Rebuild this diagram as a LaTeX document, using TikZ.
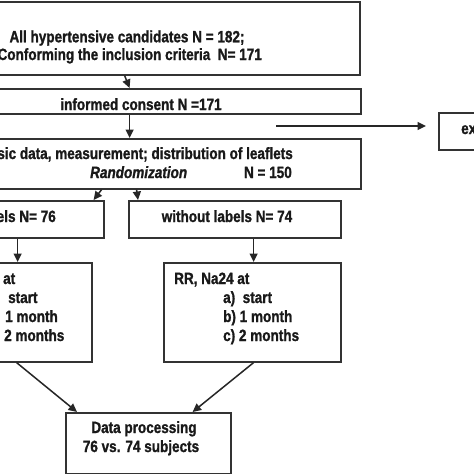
\documentclass[tikz,border=0pt]{standalone}
\usepackage{fontspec}
\setmainfont[FakeStretch=0.83,BoldFeatures={FakeBold=1.2},BoldItalicFeatures={FakeBold=1.2}]{Liberation Sans}
\usetikzlibrary{arrows.meta}
\begin{document}
\begin{tikzpicture}[x=1pt,y=-1pt,
  box/.style={draw=black!80,line width=1.6pt,inner sep=0pt,anchor=north west},
  txt/.style={inner sep=0pt,font=\fontsize{16.3}{18}\bfseries\selectfont,text=black!90},
  arr/.style={draw=black!85,line width=1.5pt,-{Triangle[length=8.5pt,width=8pt]}}]
\useasboundingbox (0,0) rectangle (474,474);
\clip (0,0) rectangle (474,474);
\fill[white] (0,0) rectangle (474,474);
% boxes
\node[box,minimum width=459pt,minimum height=73pt] (b1) at (-100,1) {};
\node[box,minimum width=438pt,minimum height=25pt] (b2) at (-78,88) {};
\node[box,minimum width=460pt,minimum height=50pt] (b3) at (-100,138) {};
\node[box,minimum width=100pt,minimum height=37pt] (ex) at (438,112) {};
\node[box,minimum width=213pt,minimum height=37pt] (b4) at (-110,200) {};
\node[box,minimum width=212pt,minimum height=37pt] (b5) at (128,200) {};
\node[box,minimum width=162pt,minimum height=99pt] (b6) at (-71,262) {};
\node[box,minimum width=177pt,minimum height=99pt] (b7) at (163,262) {};
\node[box,minimum width=165pt,minimum height=61pt] (b8) at (65,412) {};
% texts
\node[txt,anchor=base] (t1a) at (127,42.3) {All hypertensive candidates N = 182;};
\node[txt,anchor=base east] (t1b) at (262,60) {Conforming the inclusion criteria\ \ N= 171};
\node[txt,anchor=base] (t2) at (141,110) {informed consent N =171};
\node[txt,anchor=base east] (t3a) at (293,159) {sic data, measurement; distribution of leaflets};
\node[txt,anchor=base west] (t3b) at (90,178) {\itshape Randomization};
\node[txt,anchor=base east] (t3c) at (292,178) {N = 150};
\node[txt,anchor=base west] (tex) at (461,134) {ex};
\node[txt,anchor=base east] (t4) at (56,222) {els N= 76};
\node[txt,anchor=base] (t5) at (227,222) {without labels N= 74};
\node[txt,anchor=base west] (t6a) at (3,284) {at};
\node[txt,anchor=base west] (t6b) at (8,303) {start};
\node[txt,anchor=base west] (t6c) at (5,322) {1 month};
\node[txt,anchor=base west] (t6d) at (4,341) {2 months};
\node[txt,anchor=base west] (t7a) at (174,284) {RR, Na24 at};
\node[txt,anchor=base west] (t7b) at (223,303) {a)\ \ start};
\node[txt,anchor=base west] (t7c) at (223,322) {b) 1 month};
\node[txt,anchor=base west] (t7d) at (223,341) {c) 2 months};
\node[txt,anchor=base] (t8a) at (144,433) {Data processing};
\node[txt,anchor=base] (t8b) at (141,452) {76 vs. 74 subjects};
% connectors
\coordinate (s) at (276,126);
\draw[arr] ([xshift=-236pt]b1.south east) -- ([xshift=-232pt]b2.north east);
\draw[arr] ([xshift=-232pt]b2.south east) -- ([xshift=-232pt]b3.north east);
\draw[arr] (s) -- ([xshift=-12pt]s -| ex.west);
\draw[arr] ([xshift=-260pt]b3.south east) -- ([xshift=-11pt]b4.north east);
\draw[arr] ([xshift=-225pt]b3.south east) -- ([xshift=10pt]b5.north west);
\draw[arr] ([xshift=-87pt]b4.south east) -- ([xshift=-75pt]b6.north east);
\draw[arr] ([xshift=-88pt]b5.south east) -- ([xshift=-88pt]b7.north east);
\draw[arr] ([xshift=-76pt]b6.south east) -- ([xshift=12pt]b8.north west);
\draw[arr] ([xshift=-88pt]b7.south east) -- ([xshift=-39pt]b8.north east);
\end{tikzpicture}
\end{document}
